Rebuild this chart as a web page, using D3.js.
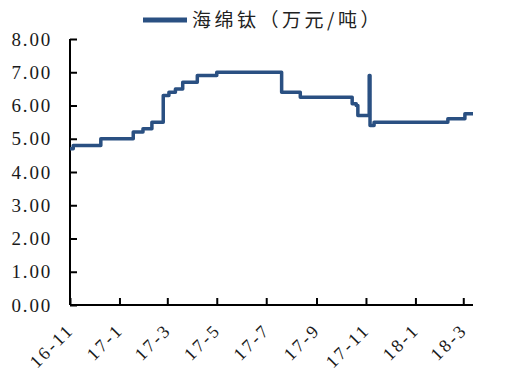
<!DOCTYPE html>
<html>
<head>
<meta charset="utf-8">
<script src="https://cdn.jsdelivr.net/npm/d3@7"></script>
<style>
  body { margin: 0; background: #fff; }
  svg { display: block; }
</style>
</head>
<body>
<div id="vis"></div>
<script>
// price of titanium sponge, step changes
var dates = ['2016-11-01', '2016-11-05', '2016-12-09', '2017-01-18', '2017-01-30',
    '2017-02-10', '2017-02-24', '2017-03-03', '2017-03-11', '2017-03-20',
    '2017-04-07', '2017-05-01', '2017-07-20', '2017-08-12', '2017-10-15',
    '2017-10-20', '2017-10-22', '2017-11-05', '2017-11-06', '2017-11-11',
    '2018-02-10', '2018-03-03', '2018-03-13'];
var prices = [4.7, 4.8, 5.0, 5.2, 5.3,
    5.5, 6.3, 6.4, 6.5, 6.7,
    6.9, 7.0, 6.4, 6.25, 6.05,
    6.0, 5.7, 6.9, 5.4, 5.5,
    5.6, 5.75, 5.75];
var tickDates = ['2016-11-01', '2017-01-01', '2017-03-01', '2017-05-01', '2017-07-01',
    '2017-09-01', '2017-11-01', '2018-01-01', '2018-03-01'];
var yTicks = [0, 1, 2, 3, 4, 5, 6, 7, 8];
var seriesName = '海绵钛（万元/吨）';

var width = 520, height = 371;
var margin = {top: 39, right: 47, bottom: 66, left: 70};
var color = '#2a5082';

var parse = d3.timeParse('%Y-%m-%d');
var data = dates.map(function(d, i) { return {date: parse(d), value: prices[i]}; });

var svg = d3.select('#vis').append('svg')
    .attr('width', width)
    .attr('height', height);

var x = d3.scaleTime()
    .domain([parse('2016-11-01'), parse('2018-03-13')])
    .range([margin.left, width - margin.right]);

var y = d3.scaleLinear()
    .domain([0, 8])
    .range([height - margin.bottom, margin.top]);

// y axis
var yAxis = svg.append('g')
    .attr('transform', 'translate(' + margin.left + ',0)')
    .call(d3.axisRight(y).tickValues(yTicks).tickSize(7).tickFormat(''));
yAxis.select('.domain').attr('stroke', '#000').attr('stroke-width', 2).attr('d',
    'M0,' + y(8) + 'V' + y(0));
yAxis.selectAll('.tick line').attr('stroke', '#000').attr('stroke-width', 2);

svg.append('g').selectAll('text')
    .data(yTicks)
  .enter().append('text')
    .attr('x', 52)
    .attr('y', function(d) { return y(d); })
    .attr('dy', '0.35em')
    .attr('text-anchor', 'end')
    .style('font-family', '"Liberation Serif", "Times New Roman", serif')
    .style('font-size', '19px')
    .style('letter-spacing', '1.8px')
    .attr('fill', '#1a1a1a')
    .text(function(d) { return d3.format('.2f')(d); });

// x axis
var xAxis = svg.append('g')
    .attr('transform', 'translate(0,' + (height - margin.bottom) + ')')
    .call(d3.axisTop(x).tickValues(tickDates.map(parse)).tickSize(7).tickFormat(''));
xAxis.select('.domain').attr('stroke', '#000').attr('stroke-width', 2).attr('d',
    'M' + margin.left + ',0H' + (width - margin.right));
xAxis.selectAll('.tick line').attr('stroke', '#000').attr('stroke-width', 2);

svg.append('g').selectAll('text')
    .data(tickDates)
  .enter().append('text')
    .attr('transform', function(d) {
        return 'translate(' + (x(parse(d)) + 5) + ',' + (height - margin.bottom + 26) + ') rotate(-45)';
    })
    .attr('text-anchor', 'end')
    .style('font-family', '"Liberation Serif", "Times New Roman", serif')
    .style('font-size', '18px')
    .style('letter-spacing', '2.5px')
    .attr('fill', '#1a1a1a')
    .text(function(d) {
        var dt = parse(d);
        return d3.timeFormat('%y')(dt) + '-' + (dt.getMonth() + 1);
    });

// series
var line = d3.line()
    .x(function(d) { return x(d.date); })
    .y(function(d) { return y(d.value); })
    .curve(d3.curveStepAfter);

svg.append('path')
    .datum(data)
    .attr('fill', 'none')
    .attr('stroke', color)
    .attr('stroke-width', 3.5)
    .attr('stroke-linejoin', 'round')
    .attr('d', line);

// legend
var legend = svg.append('g').attr('transform', 'translate(143,20)');
legend.append('line')
    .attr('x1', 0).attr('x2', 44)
    .attr('y1', 0).attr('y2', 0)
    .attr('stroke', color)
    .attr('stroke-width', 5);
legend.append('text')
    .attr('x', 49)
    .attr('y', 0)
    .attr('dy', '0.35em')
    .style('font-family', '"Noto Sans CJK SC", sans-serif')
    .style('font-size', '19px')
    .style('letter-spacing', '3.5px')
    .attr('fill', '#222')
    .text(seriesName);
</script>
</body>
</html>
